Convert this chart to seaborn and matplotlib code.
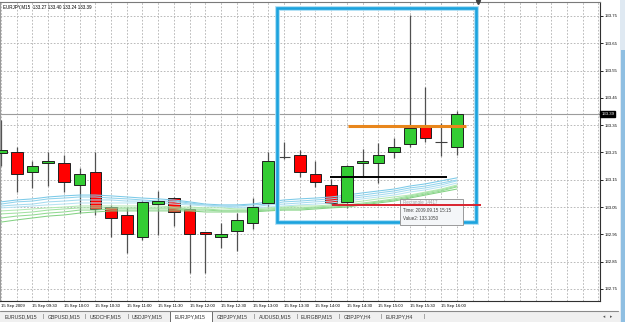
import matplotlib
matplotlib.use("Agg")
import matplotlib.pyplot as plt
import matplotlib.transforms as mtransforms
from matplotlib.patches import Rectangle
from matplotlib import font_manager as fm
import seaborn as sns
import pandas as pd
import numpy as np

# ---------------- data ----------------
header_text = "EURJPY,M15  133.27 133.40 133.24 133.39"
time_labels = ["15 Sep 2009", "15 Sep 09:30", "15 Sep 10:00", "15 Sep 10:30", "15 Sep 11:00",
               "15 Sep 11:30", "15 Sep 12:00", "15 Sep 12:30", "15 Sep 13:00", "15 Sep 13:30",
               "15 Sep 14:00", "15 Sep 14:30", "15 Sep 15:00", "15 Sep 15:30", "15 Sep 16:00"]

opens  = [133.248, 133.252, 133.179, 133.212, 133.212, 133.131, 133.179, 133.050, 133.021, 132.940,
          133.061, 133.083, 133.043, 132.959, 132.940, 132.962, 132.992, 133.065, 133.234, 133.241,
          133.171, 133.131, 133.069, 133.212, 133.212, 133.252, 133.281, 133.343, 133.288, 133.270]
highs  = [133.369, 133.270, 133.219, 133.252, 133.241, 133.193, 133.252, 133.058, 133.050, 133.076,
          133.109, 133.087, 133.065, 132.959, 132.992, 133.028, 133.083, 133.252, 133.288, 133.259,
          133.219, 133.153, 133.205, 133.263, 133.285, 133.303, 133.754, 133.490, 133.358, 133.400]
lows   = [133.200, 133.105, 133.120, 133.127, 133.105, 133.028, 133.021, 132.940, 132.882, 132.929,
          132.948, 132.981, 132.809, 132.809, 132.900, 132.889, 132.970, 133.047, 133.226, 133.160,
          133.124, 133.058, 133.047, 133.164, 133.138, 133.229, 133.270, 133.288, 133.237, 133.240]
closes = [133.259, 133.171, 133.201, 133.219, 133.142, 133.171, 133.043, 133.010, 132.951, 133.069,
          133.072, 133.032, 132.951, 132.951, 132.951, 133.003, 133.050, 133.219, 133.234, 133.179,
          133.142, 133.065, 133.201, 133.219, 133.241, 133.270, 133.340, 133.303, 133.288, 133.390]

ma_blue_1 = [133.069, 133.076, 133.080, 133.087, 133.091, 133.094, 133.094, 133.091, 133.087, 133.083,
             133.080, 133.076, 133.069, 133.061, 133.058, 133.058, 133.061, 133.069, 133.076, 133.080,
             133.083, 133.087, 133.094, 133.102, 133.109, 133.116, 133.127, 133.135, 133.146, 133.157]
ma_blue_2 = [133.061, 133.069, 133.072, 133.080, 133.083, 133.087, 133.087, 133.083, 133.080, 133.076,
             133.072, 133.072, 133.065, 133.058, 133.054, 133.054, 133.058, 133.061, 133.069, 133.072,
             133.076, 133.080, 133.087, 133.094, 133.102, 133.109, 133.120, 133.127, 133.138, 133.149]
ma_blue_3 = [133.054, 133.058, 133.061, 133.069, 133.072, 133.076, 133.076, 133.076, 133.072, 133.072,
             133.069, 133.069, 133.061, 133.058, 133.054, 133.050, 133.050, 133.058, 133.061, 133.065,
             133.069, 133.072, 133.080, 133.087, 133.094, 133.102, 133.113, 133.120, 133.131, 133.146]
ma_blue_4 = [133.047, 133.050, 133.054, 133.058, 133.061, 133.065, 133.065, 133.065, 133.065, 133.065,
             133.065, 133.061, 133.058, 133.054, 133.050, 133.047, 133.047, 133.050, 133.054, 133.058,
             133.061, 133.065, 133.072, 133.080, 133.087, 133.094, 133.105, 133.113, 133.124, 133.138]
ma_green_1 = [133.036, 133.039, 133.043, 133.047, 133.050, 133.054, 133.054, 133.054, 133.054, 133.054,
              133.054, 133.050, 133.050, 133.047, 133.047, 133.043, 133.043, 133.047, 133.050, 133.054,
              133.054, 133.058, 133.065, 133.072, 133.080, 133.087, 133.094, 133.105, 133.116, 133.131]
ma_green_2 = [133.025, 133.028, 133.032, 133.039, 133.043, 133.047, 133.047, 133.047, 133.047, 133.047,
              133.047, 133.047, 133.043, 133.043, 133.039, 133.039, 133.039, 133.043, 133.047, 133.047,
              133.050, 133.054, 133.058, 133.065, 133.072, 133.080, 133.091, 133.102, 133.113, 133.127]
ma_green_3 = [133.010, 133.017, 133.021, 133.028, 133.032, 133.039, 133.039, 133.043, 133.043, 133.043,
              133.043, 133.043, 133.039, 133.039, 133.036, 133.036, 133.036, 133.039, 133.043, 133.043,
              133.047, 133.050, 133.054, 133.061, 133.069, 133.076, 133.087, 133.098, 133.109, 133.124]
ma_green_4 = [132.995, 133.003, 133.010, 133.017, 133.021, 133.028, 133.032, 133.036, 133.036, 133.036,
              133.036, 133.036, 133.036, 133.032, 133.032, 133.032, 133.032, 133.036, 133.039, 133.039,
              133.043, 133.047, 133.050, 133.058, 133.065, 133.072, 133.083, 133.094, 133.105, 133.116]

price_ticks = [132.75, 132.85, 132.95, 133.05, 133.15, 133.25, 133.35, 133.45, 133.55, 133.65, 133.75]
price_tick_labels = ["132.75", "132.85", "132.95", "133.05", "133.15", "133.25",
                     "133.35", "133.45", "133.55", "133.65", "133.75"]
bid_price = 133.39
bid_label = "133.39"

orange_level = 133.348
black_level = 133.160
red_level = 133.058
rect_bars = (17.53, 30.2)
rect_prices = (132.995, 133.779)

tooltip_lines = ["Rectangle 14417", "Time: 2009.09.15 15:15", "Value2: 133.1050"]
tabs = ["EURUSD,M15", "GBPUSD,M15", "USDCHF,M15", "USDJPY,M15", "EURJPY,M15",
        "GBPJPY,M15", "AUDUSD,M15", "EURGBP,M15", "GBPJPY,H4", "EURJPY,H4"]
active_tab = "EURJPY,M15"

# ---------------- style ----------------
sns.set_theme(style="white")
names = {f.name for f in fm.fontManager.ttflist}
if "Liberation Sans Narrow" in names:
    FONT, SC = "Liberation Sans Narrow", 1.0
else:
    FONT, SC = "Liberation Sans", 0.82
plt.rcParams["font.family"] = [FONT, "DejaVu Sans"]

W_PX, H_PX, DPI = 625, 322, 100
fig = plt.figure(figsize=(W_PX / DPI, H_PX / DPI), dpi=DPI)
fig.patch.set_facecolor("white")

def fx(px):
    return px / W_PX

def fy(py):
    return 1 - py / H_PX

ax = fig.add_axes([0, fy(301), fx(600), (301 - 2) / H_PX])
ax.set_facecolor("white")

n_visible = 39
ax.set_xlim(-0.0636, 38.1)
ax.set_ylim(132.706, 133.801)

# grid
grid_kw = dict(color="#b0b0b0", lw=0.6, ls=(0, (2, 2)), zorder=0)
for i in range(n_visible):
    ax.axvline(i, **grid_kw)
for p in price_ticks:
    ax.axhline(p, **grid_kw)

ax.axhline(bid_price, color="#9c9c9c", lw=0.8, zorder=1)

# candles
bars = np.arange(len(opens))
o = np.array(opens); c = np.array(closes); h = np.array(highs); l = np.array(lows)
up = c > o
down = c < o
flat = c == o
W = 0.74
ax.vlines(bars, l, h, color="#505050", lw=0.9, zorder=2)
ax.bar(bars[down], (o - c)[down], bottom=c[down], width=W, color="#ff0000",
       edgecolor="#202020", linewidth=0.7, zorder=3)

# moving-average ribbon
ma_series = {"b1": ma_blue_1, "b2": ma_blue_2, "b3": ma_blue_3, "b4": ma_blue_4,
             "g1": ma_green_1, "g2": ma_green_2, "g3": ma_green_3, "g4": ma_green_4}
df = pd.concat([pd.DataFrame({"bar": bars, "value": v, "line": k}) for k, v in ma_series.items()])
palette = {"b1": "#7ccae8", "b2": "#90d3ec", "b3": "#a5dbef", "b4": "#b8e4f2",
           "g1": "#b4e9b4", "g2": "#a2e2a2", "g3": "#92da92", "g4": "#84d284"}
sns.lineplot(data=df, x="bar", y="value", hue="line", palette=palette, legend=False,
             ax=ax, linewidth=0.75, zorder=4)

ax.bar(bars[up], (c - o)[up], bottom=o[up], width=W, color="#33cc33",
       edgecolor="#202020", linewidth=0.7, zorder=5)
ax.hlines(o[flat], bars[flat] - W / 2, bars[flat] + W / 2, color="#404040", lw=0.8, zorder=5)

# objects
ax.hlines(orange_level, 22.1, 29.6, color="#e8861c", lw=2.2, zorder=6)
ax.hlines(black_level, 20.9, 28.4, color="black", lw=1.4, zorder=6)

rx0, rx1 = rect_bars
ry0, ry1 = rect_prices
ax.add_patch(Rectangle((rx0, ry0), rx1 - rx0, ry1 - ry0, fill=False,
                       edgecolor="#a8ddf4", lw=3.4, zorder=6))
ax.add_patch(Rectangle((rx0, ry0), rx1 - rx0, ry1 - ry0, fill=False,
                       edgecolor="#1ca3de", lw=1.9, zorder=6))

# tooltip
tt_x0, tt_x1 = 25.38, 29.39
tt_y1, tt_y0 = 133.079, 132.984
ax.add_patch(Rectangle((tt_x0, tt_y0), tt_x1 - tt_x0, tt_y1 - tt_y0, facecolor="#f4f6f8",
                       edgecolor="#9a9a9a", lw=0.7, zorder=7))
for k, line in enumerate(tooltip_lines):
    ax.text(tt_x0 + 0.2, tt_y1 - 0.014 - k * 0.028, line, fontsize=4.0 * SC,
            color="#a0a0a0" if k == 0 else "#404040", va="center", ha="left", zorder=7.5)
ax.hlines(red_level, 21.05, 30.5, color="#d9232e", lw=1.4, zorder=8)

# chart-shift marker
ax.plot([30.34], [133.80], marker="v", color="#404040", ms=3, clip_on=False, zorder=9)

# axes
ax.yaxis.tick_right()
ax.set_yticks(price_ticks)
ax.set_yticklabels(price_tick_labels)
ax.set_xticks(np.arange(0, 2 * len(time_labels), 2))
ax.set_xticklabels(time_labels, ha="left")
ax.tick_params(axis="y", which="both", right=True, left=False, length=2, width=0.6,
               pad=1.2, labelsize=3.75 * SC, colors="black")
ax.tick_params(axis="x", which="both", bottom=True, length=0, pad=2,
               labelsize=3.7 * SC, colors="black")
for lab in ax.get_xticklabels():
    lab.set_horizontalalignment("left")
ax.set_xlabel("")
ax.set_ylabel("")
for side, col in [("top", "#7a7a7a"), ("bottom", "#303030"), ("right", "#303030"), ("left", "#9a9a9a")]:
    ax.spines[side].set_visible(True)
    ax.spines[side].set_color(col)
    ax.spines[side].set_linewidth(0.8)

trans = mtransforms.blended_transform_factory(ax.transAxes, ax.transData)
ax.text(1.002, bid_price, bid_label, transform=trans, fontsize=3.75 * SC, color="white",
        va="center", ha="left", zorder=10, clip_on=False,
        bbox=dict(boxstyle="square,pad=0.25", facecolor="black", edgecolor="black"))

# header
fig.text(fx(3), fy(6.5), header_text, fontsize=4.0 * SC, color="black", va="center", ha="left")

# tab bar
fig.patches.append(Rectangle((0, 0), 1, fy(311), transform=fig.transFigure,
                             facecolor="#f0f0f0", edgecolor="none", zorder=0))
fig.lines.append(plt.Line2D([0, fx(618)], [fy(311), fy(311)], transform=fig.transFigure,
                            color="#8a8a8a", lw=0.8))
for k, name in enumerate(tabs):
    x_left = 5 + 42.3 * k
    if name == active_tab:
        fig.patches.append(Rectangle((fx(x_left - 4), 0), fx(42), fy(311), transform=fig.transFigure,
                                     facecolor="white", edgecolor="#6a6a6a", lw=0.7, zorder=1))
    fig.text(fx(x_left), fy(316.5), name, fontsize=4.5 * SC, color="#333333",
             va="center", ha="left", zorder=2)
    if name != active_tab and k + 1 < len(tabs) and tabs[k + 1] != active_tab:
        fig.text(fx(x_left + 37.5), fy(316.5), "|", fontsize=4.5 * SC, color="#555555",
                 va="center", ha="left", zorder=2)
    elif k + 1 == len(tabs):
        fig.text(fx(x_left + 37.5), fy(316.5), "|", fontsize=4.5 * SC, color="#555555",
                 va="center", ha="left", zorder=2)
fig.text(fx(603), fy(316.5), "\u25c2", fontsize=4 * SC, color="#555555", va="center",
         family=["DejaVu Sans"])
fig.text(fx(610), fy(316.5), "\u25b8", fontsize=4 * SC, color="#555555", va="center",
         family=["DejaVu Sans"])

# right window edge / scrollbar
fig.patches.append(Rectangle((fx(619.5), 0), fx(5.5), 1, transform=fig.transFigure,
                             facecolor="#dfe9f2", edgecolor="none", zorder=0))
fig.patches.append(Rectangle((fx(620.5), 0), fx(4.5), fy(50), transform=fig.transFigure,
                             facecolor="#8fbfe2", edgecolor="none", zorder=0))

fig.savefig("out.png", dpi=DPI, facecolor="white")
